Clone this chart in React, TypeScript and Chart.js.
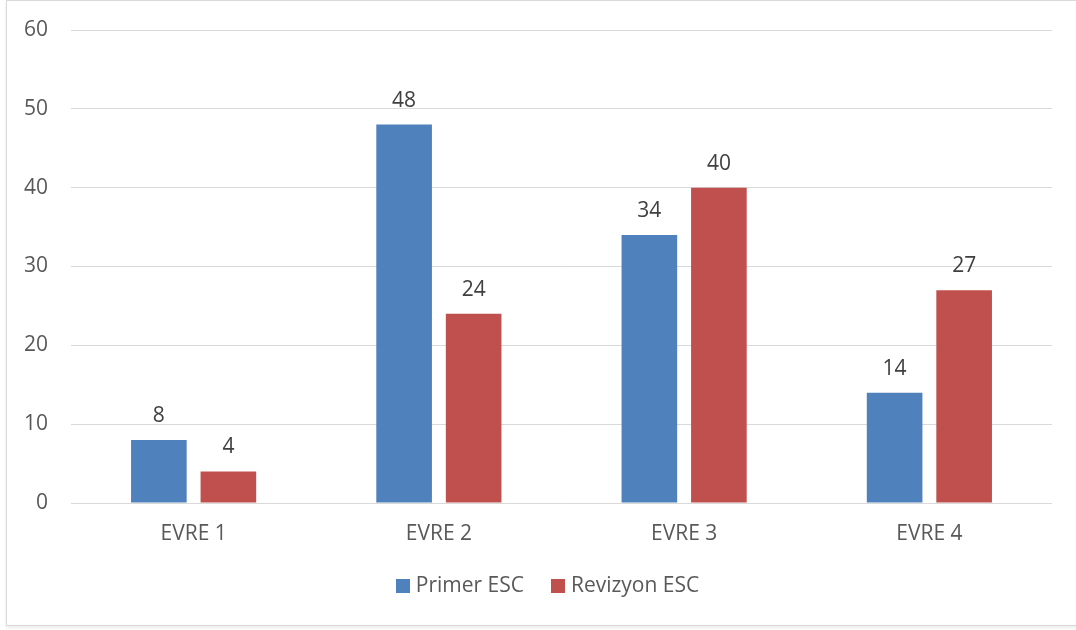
import React, { useEffect, useRef } from "react";
import { Chart, registerables } from "chart.js";

Chart.register(...registerables);

const categories = ["EVRE 1", "EVRE 2", "EVRE 3", "EVRE 4"];
const seriesNames = ["Primer ESC", "Revizyon ESC"];
const primerESC = [8, 48, 34, 14];
const revizyonESC = [4, 24, 40, 27];
const seriesColors = ["#4f81bd", "#c0504d"];
const yMin = 0;
const yMax = 60;
const yStep = 10;

const FONT = "'Open Sans', 'Noto Sans', sans-serif";
const FSIZE = 21;

const valueLabels = {
  id: "valueLabels",
  afterDatasetsDraw(chart: any) {
    const ctx = chart.ctx;
    ctx.save();
    ctx.font = `${FSIZE}px ${FONT}`;
    ctx.fillStyle = "#404040";
    ctx.textAlign = "center";
    ctx.textBaseline = "alphabetic";
    chart.data.datasets.forEach((ds: any, i: number) => {
      const meta = chart.getDatasetMeta(i);
      meta.data.forEach((bar: any, j: number) => {
        ctx.fillText(String(ds.data[j]), bar.x, bar.y - 18);
      });
    });
    ctx.restore();
  },
};

const bottomLegend = {
  id: "bottomLegend",
  afterDraw(chart: any) {
    const ctx = chart.ctx;
    ctx.save();
    ctx.font = `${FSIZE}px ${FONT}`;
    ctx.textBaseline = "middle";
    ctx.textAlign = "left";
    const box = 14;
    const gapBoxText = 6;
    const gapItems = 27;
    const items = chart.data.datasets.map((ds: any) => ({
      text: ds.label,
      color: ds.backgroundColor,
      w: ctx.measureText(ds.label).width,
    }));
    const total =
      items.reduce((s: number, it: any) => s + box + gapBoxText + it.w, 0) + gapItems * (items.length - 1);
    const cx = 547.5;
    const cy = 586;
    let x = cx - total / 2;
    items.forEach((it: any) => {
      ctx.fillStyle = it.color;
      ctx.fillRect(Math.round(x), Math.round(cy - box / 2), box, box);
      ctx.fillStyle = "#595959";
      ctx.fillText(it.text, x + box + gapBoxText, cy);
      x += box + gapBoxText + it.w + gapItems;
    });
    ctx.restore();
  },
};

export default function App() {
  const ref = useRef<HTMLCanvasElement | null>(null);

  useEffect(() => {
    document.body.style.margin = "0";
    const canvas = ref.current;
    if (!canvas) return;
    const chart = new Chart(canvas, {
      type: "bar",
      data: {
        labels: categories,
        datasets: [
          {
            label: seriesNames[0],
            data: primerESC,
            backgroundColor: seriesColors[0],
            categoryPercentage: 0.567,
            barPercentage: 0.8,
          },
          {
            label: seriesNames[1],
            data: revizyonESC,
            backgroundColor: seriesColors[1],
            categoryPercentage: 0.567,
            barPercentage: 0.8,
          },
        ],
      },
      options: {
        responsive: false,
        animation: false,
        layout: { padding: { left: 0, right: 24, top: 30, bottom: 81 } },
        plugins: {
          legend: { display: false },
          tooltip: { enabled: false },
        },
        scales: {
          x: {
            grid: { display: false },
            border: { display: false },
            ticks: {
              color: "#595959",
              font: { family: FONT, size: FSIZE },
              padding: 10,
            },
            afterFit(scale: any) {
              scale.height = 46;
            },
          },
          y: {
            min: yMin,
            max: yMax,
            border: { display: false },
            grid: {
              color: "#d9d9d9",
              lineWidth: 1,
              drawTicks: true,
              tickLength: 23,
              tickColor: "rgba(0,0,0,0)",
            },
            ticks: {
              stepSize: yStep,
              color: "#595959",
              font: { family: FONT, size: FSIZE },
              padding: 0,
            },
            afterFit(scale: any) {
              scale.width = 71;
            },
          },
        },
      },
      plugins: [valueLabels, bottomLegend],
    } as any);
    return () => chart.destroy();
  }, []);

  return (
    <div style={{ position: "relative", width: 1076, height: 630, overflow: "hidden", background: "#fff" }}>
      <div
        style={{
          position: "absolute",
          left: 6,
          top: 0,
          width: 1100,
          height: 624,
          border: "1px solid #d9d9d9",
          boxShadow: "0 2px 3px rgba(0,0,0,0.08)",
        }}
      />
      <canvas ref={ref} width={1076} height={630} style={{ position: "absolute", left: 0, top: 0, display: "block" }} />
    </div>
  );
}
